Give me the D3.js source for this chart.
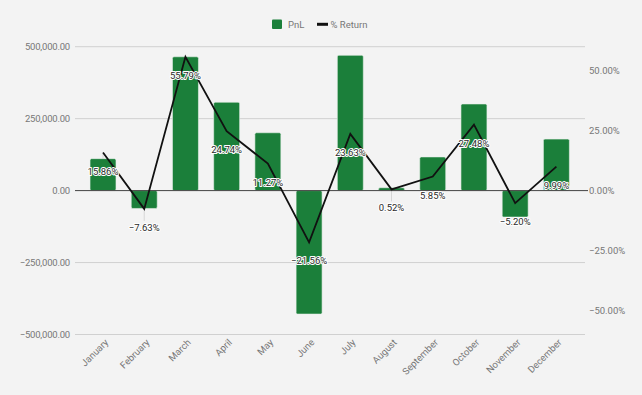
<!DOCTYPE html>
<html><head><meta charset="utf-8">
<script src="https://cdn.jsdelivr.net/npm/d3@7"></script>
<style>
html,body{margin:0;padding:0;background:#f3f3f3;}
svg{display:block;font-family:Roboto,"Open Sans",sans-serif;}
</style></head>
<body><svg id="c" width="642" height="395"></svg>
<script>
const months = ["January","February","March","April","May","June","July","August","September","October","November","December"];
const pnl = [111000,-62000,465000,307000,201000,-429000,470000,10000,117000,301000,-92000,179000];
const pctReturn = [15.86,-7.63,55.79,24.74,11.27,-21.56,23.63,0.52,5.85,27.48,-5.20,9.99];
const leftTicks = [-500000,-250000,0,250000,500000];
const rightTicks = [-50,-25,0,25,50];

const svg = d3.select("#c");
const W = 642, H = 395;
svg.append("rect").attr("width",W).attr("height",H).attr("fill","#f3f3f3");

const gridL = 75, gridR = 585;
const x = d3.scaleBand().domain(months).range([82.4,577]).paddingInner(0.37).paddingOuter(0.185);
const y = d3.scaleLinear().domain([-500000,500000]).range([334.5,46.7]);
const y2 = d3.scaleLinear().domain([-60,60]).range([334.5,46.7]);
const zeroY = y(0);
const axisCol = "#777777";
const cx = d=>x(d)+x.bandwidth()/2;

// gridlines
svg.append("g").selectAll("line").data(leftTicks.filter(d=>d!==0)).join("line")
  .attr("x1",gridL).attr("x2",gridR).attr("y1",d=>y(d)).attr("y2",d=>y(d))
  .attr("stroke","#d0d0d0").attr("stroke-width",1);

// left axis
const la = svg.append("g").attr("transform",`translate(${gridL},0)`)
  .call(d3.axisLeft(y).tickValues(leftTicks).tickSize(0).tickPadding(5)
  .tickFormat(d=>d3.format(",.2f")(d)));
la.select(".domain").remove();
la.selectAll("text").attr("fill",axisCol).attr("font-size","9.5px").attr("font-family","Roboto").attr("letter-spacing","-0.2px");

// right axis
const ra = svg.append("g").attr("transform",`translate(${gridR},0)`)
  .call(d3.axisRight(y2).tickValues(rightTicks).tickSize(0).tickPadding(4)
  .tickFormat(d=>d3.format(".2f")(d)+"%"));
ra.select(".domain").remove();
ra.selectAll("text").attr("fill",axisCol).attr("font-size","9.5px").attr("font-family","Roboto");

// annotation stems (behind bars)
svg.append("g").selectAll("line").data(pctReturn).join("line")
  .attr("x1",(d,i)=>cx(months[i])).attr("x2",(d,i)=>cx(months[i]))
  .attr("y1",d=>y2(d)+1).attr("y2",d=>y2(d)+12)
  .attr("stroke","#d6d6d6").attr("stroke-width",1);

// bars
svg.append("g").selectAll("rect").data(months).join("rect")
  .attr("x",(d)=>x(d)).attr("width",x.bandwidth())
  .attr("y",(d,i)=>Math.min(y(pnl[i]),zeroY))
  .attr("height",(d,i)=>Math.abs(y(pnl[i])-zeroY))
  .attr("fill","#1b7f3a").attr("stroke","#e8f0ea").attr("stroke-width",0.6).attr("rx",1.5);

// zero baseline
svg.append("line").attr("x1",gridL).attr("x2",gridR+3).attr("y1",zeroY).attr("y2",zeroY)
  .attr("stroke","#444").attr("stroke-width",1);

// line
const line = d3.line().x((d,i)=>cx(months[i])).y(d=>y2(d));
svg.append("path").datum(pctReturn).attr("d",line)
  .attr("fill","none").attr("stroke","#111").attr("stroke-width",1.8).attr("stroke-linejoin","miter");

// labels
svg.append("g").selectAll("text").data(pctReturn).join("text")
  .attr("x",(d,i)=>cx(months[i])).attr("y",d=>y2(d)+22)
  .attr("text-anchor","middle").attr("font-size","9.5px").attr("font-family","Roboto")
  .attr("fill","#2a2a2a").attr("stroke","#ffffff").attr("stroke-width",2)
  .attr("paint-order","stroke").attr("stroke-linejoin","round")
  .text(d=>d3.format(".2f")(d)+"%");

// x labels
svg.append("g").selectAll("text").data(months).join("text")
  .attr("transform",d=>`translate(${cx(d)+6},${343}) rotate(-45)`)
  .attr("text-anchor","end").attr("font-size","9.5px").attr("font-family","Roboto")
  .attr("fill",axisCol).text(d=>d);

// legend
const lg = svg.append("g");
lg.append("rect").attr("x",272).attr("y",19.5).attr("width",10).attr("height",9.5).attr("rx",1).attr("fill","#1b7f3a");
lg.append("text").attr("x",288).attr("y",28).attr("font-size","9.5px").attr("fill",axisCol).text("PnL");
lg.append("line").attr("x1",317).attr("x2",328).attr("y1",24.3).attr("y2",24.3).attr("stroke","#111").attr("stroke-width",3);
lg.append("text").attr("x",330.5).attr("y",28).attr("font-size","9.5px").attr("fill",axisCol).text("% Return");
</script></body></html>
